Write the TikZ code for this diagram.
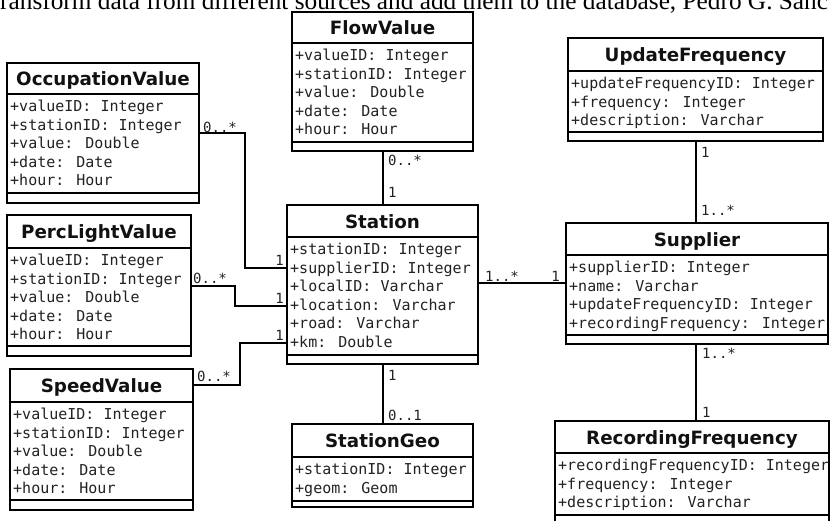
\documentclass[tikz,border=0pt]{standalone}
\usepackage{fontspec}
\setmainfont{Liberation Serif}
\newfontfamily\titlefont{DejaVu Sans}
\newfontfamily\attrfont{DejaVu Sans Mono}
\usetikzlibrary{fit}
\definecolor{attrgray}{HTML}{222222}
\definecolor{titleblack}{HTML}{111111}
\tikzset{
  classbox/.style={draw, line width=1.8pt, inner sep=0pt},
  divline/.style={line width=1.8pt},
  conn/.style={line width=1.8pt},
  titletext/.style={font=\titlefont\bfseries\fontsize{18.3}{21}\selectfont, text=titleblack, inner sep=0pt, anchor=base},
  attrtext/.style={font=\attrfont\fontsize{15}{18}\selectfont, text=attrgray, inner sep=0pt, anchor=base west},
  mult/.style={font=\attrfont\fontsize{14}{16}\selectfont, text=attrgray, inner sep=0pt},
  captext/.style={font=\fontsize{25.3}{28}\selectfont, inner sep=0pt, anchor=base west}
}
% #1 name, #2 left, #3 top, #4 right, #5 title divider, #6 attr divider, #7 bottom, #8 title, #9 attributes
\newcommand\umlclass[9]{%
  \node[classbox, fit={(#2,#3) (#4,#7)}] (#1) {};
  \draw[divline] (#2,#5) -- (#4,#5);
  \draw[divline] (#2,#6) -- (#4,#6);
  \node[titletext] (#1-title) at ({(#2+#4)/2},{(#3+#5)/2+7}) {#8};
  \foreach \a [count=\i] in {#9}
    \node[attrtext] (#1-\i) at ({#2+3},{#5+17.5+18.5*(\i-1)}) {\a};
}
\begin{document}
\begin{tikzpicture}[x=1pt,y=-1pt]
\useasboundingbox (0,0) rectangle (830,520);
\clip (0,0) rectangle (830,520);
\fill[white] (0,0) rectangle (830,520);

\node[captext] (caption) at (0,9) {ransform data from different sources and add them to the database, Pedro G. Sanc};

\umlclass{occ}{7}{63}{199}{94}{193}{203}{OccupationValue}{+valueID: Integer,+stationID: Integer,+value: Double,+date: Date,+hour: Hour}
\umlclass{perc}{7}{215}{191}{248}{346}{356}{PercLightValue}{+valueID: Integer,+stationID: Integer,+value: Double,+date: Date,+hour: Hour}
\umlclass{speed}{10}{369}{193}{402}{500}{510}{SpeedValue}{+valueID: Integer,+stationID: Integer,+value: Double,+date: Date,+hour: Hour}
\umlclass{flow}{292}{12}{473}{43}{142}{151}{FlowValue}{+valueID: Integer,+stationID: Integer,+value: Double,+date: Date,+hour: Hour}
\umlclass{station}{287}{205}{478}{237}{355}{364}{Station}{+stationID: Integer,+supplierID: Integer,+localID: Varchar,+location: Varchar,+road: Varchar,+km: Double}
\umlclass{geo}{292}{424}{473}{457}{501}{507}{StationGeo}{+stationID: Integer,+geom: Geom}
\umlclass{upd}{568}{38}{823}{71}{132}{141}{UpdateFrequency}{+updateFrequencyID: Integer,+frequency: Integer,+description: Varchar}
\umlclass{sup}{566}{223}{828}{255}{335}{344}{Supplier}{+supplierID: Integer,+name: Varchar,+updateFrequencyID: Integer,+recordingFrequency: Integer}
\umlclass{rec}{555}{421}{829}{453}{515}{526}{RecordingFrequency}{+recordingFrequencyID: Integer,+frequency: Integer,+description: Varchar}

% bend points
\coordinate (b1) at (245,133);
\coordinate (b2) at (245,268);
\coordinate (b3) at (235,286);
\coordinate (b4) at (235,306);
\coordinate (b5) at (240,385);
\coordinate (b6) at (240,343);
\coordinate (v1) at (383,0);
\coordinate (v2) at (696,0);
\coordinate (h1) at (0,283);

% connectors
\draw[conn] (occ.east |- b1) -- (b1) -- (b2) -- (station.west |- b2);
\draw[conn] (perc.east |- b3) -- (b3) -- (b4) -- (station.west |- b4);
\draw[conn] (speed.east |- b5) -- (b5) -- (b6) -- (station.west |- b6);
\draw[conn] (flow.south -| v1) -- (station.north -| v1);
\draw[conn] (station.south -| v1) -- (geo.north -| v1);
\draw[conn] (station.east |- h1) -- (sup.west |- h1);
\draw[conn] (upd.south -| v2) -- (sup.north -| v2);
\draw[conn] (sup.south -| v2) -- (rec.north -| v2);

% multiplicities
\node[mult, anchor=base west] (m1) at (203,132) {0..*};
\node[mult, anchor=base east] (m2) at (284,265) {1};
\node[mult, anchor=base west] (m3) at (193,283) {0..*};
\node[mult, anchor=base east] (m4) at (284,303) {1};
\node[mult, anchor=base west] (m5) at (197,381) {0..*};
\node[mult, anchor=base east] (m6) at (284,340) {1};
\node[mult, anchor=base west] (m7) at (388,165) {0..*};
\node[mult, anchor=base west] (m8) at (388,197) {1};
\node[mult, anchor=base west] (m9) at (388,380) {1};
\node[mult, anchor=base west] (m10) at (388,420) {0..1};
\node[mult, anchor=base west] (m11) at (485,281) {1..*};
\node[mult, anchor=base east] (m12) at (560,281) {1};
\node[mult, anchor=base west] (m13) at (701,157) {1};
\node[mult, anchor=base west] (m14) at (701,215) {1..*};
\node[mult, anchor=base west] (m15) at (702,358) {1..*};
\node[mult, anchor=base west] (m16) at (702,417) {1};
\end{tikzpicture}
\end{document}
